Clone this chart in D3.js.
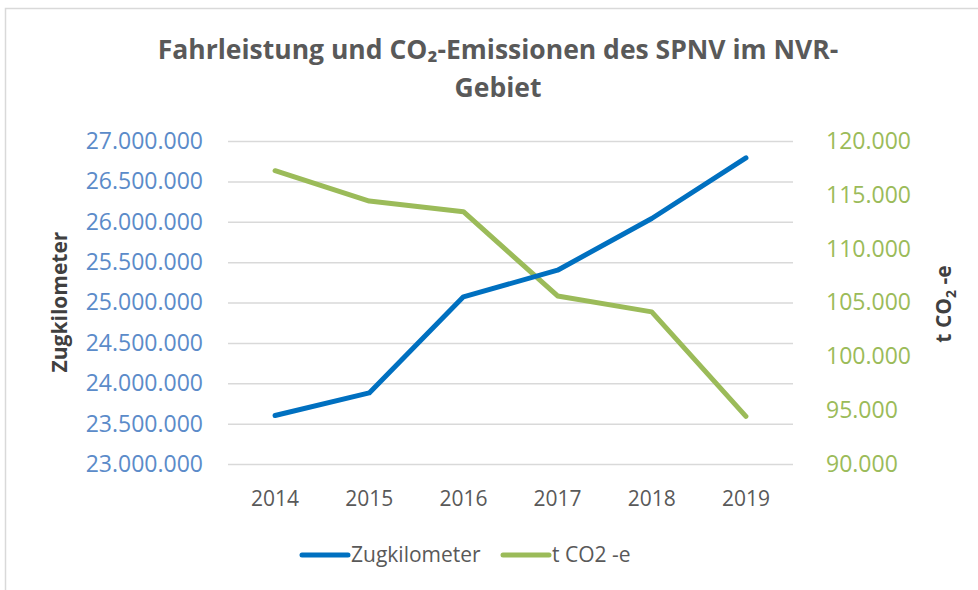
<!DOCTYPE html>
<html lang="de">
<head>
<meta charset="utf-8">
<title>Fahrleistung und CO2-Emissionen des SPNV im NVR-Gebiet</title>
<style>
body { margin: 0; background: #fff; }
svg text { font-family: "Open Sans", sans-serif; }
.grid line { stroke: #d9d9d9; stroke-width: 1.5; }
.grid path { display: none; }
.title { fill: #595959; font-weight: 700; font-size: 26.5px; }
.axis-title { fill: #404040; font-weight: 700; font-size: 21px; }
.ytick-left text { fill: #5b8bc9; font-size: 23px; }
.ytick-right text { fill: #9bbb59; font-size: 23px; }
.xtick text { fill: #595959; font-size: 21px; }
.legend text { fill: #595959; font-size: 21px; }
</style>
</head>
<body>
<div id="chart"></div>
<script src="https://d3js.org/d3.v7.min.js"></script>
<script>
  // data
  var years = ["2014", "2015", "2016", "2017", "2018", "2019"];
  var zugkm = [23600000, 23880000, 25070000, 25400000, 26040000, 26790000];
  var co2 = [117240, 114420, 113430, 105610, 104130, 94430];
  var leftTicks = [23000000, 23500000, 24000000, 24500000, 25000000, 25500000, 26000000, 26500000, 27000000];
  var rightTicks = [90000, 95000, 100000, 105000, 110000, 115000, 120000];

  var W = 978, H = 590;
  var plotL = 228, plotR = 793, plotT = 141, plotB = 464;

  var svg = d3.select("#chart").append("svg")
    .attr("width", W)
    .attr("height", H);

  // chart area border (only left and top visible in the crop)
  svg.append("rect")
    .attr("x", 5.5).attr("y", 8.5)
    .attr("width", W + 20).attr("height", H + 20)
    .attr("fill", "#fff")
    .attr("stroke", "#d9d9d9")
    .attr("stroke-width", 1.5);

  var x = d3.scaleBand().domain(years).range([plotL, plotR]);
  var yL = d3.scaleLinear().domain([23000000, 27000000]).range([plotB, plotT]);
  var yR = d3.scaleLinear().domain([90000, 120000]).range([plotB, plotT]);

  var fmt = function(v) { return d3.format(",")(v).replace(/,/g, "."); };

  // title
  var title = svg.append("text")
    .attr("class", "title")
    .attr("text-anchor", "middle");
  title.append("tspan").attr("x", 498).attr("y", 59)
    .text("Fahrleistung und CO\u2082-Emissionen des SPNV im NVR-");
  title.append("tspan").attr("x", 498).attr("y", 97).text("Gebiet");

  // gridlines
  svg.append("g")
    .attr("class", "grid")
    .attr("transform", "translate(" + plotL + ",0)")
    .call(d3.axisRight(yL).tickValues(leftTicks).tickSize(plotR - plotL).tickFormat(""));

  // left axis labels
  var gl = svg.append("g")
    .attr("class", "ytick-left")
    .attr("transform", "translate(" + plotL + ",0)")
    .call(d3.axisLeft(yL).tickValues(leftTicks).tickSize(0).tickPadding(25).tickFormat(fmt));
  gl.select(".domain").remove();

  // right axis labels
  var gr = svg.append("g")
    .attr("class", "ytick-right")
    .attr("transform", "translate(" + plotR + ",0)")
    .call(d3.axisRight(yR).tickValues(rightTicks).tickSize(0).tickPadding(33).tickFormat(fmt));
  gr.select(".domain").remove();

  // x labels
  var gx = svg.append("g")
    .attr("class", "xtick")
    .attr("transform", "translate(0," + plotB + ")")
    .call(d3.axisBottom(x).tickSize(0).tickPadding(27));
  gx.select(".domain").remove();

  // axis titles
  svg.append("text")
    .attr("class", "axis-title")
    .attr("transform", "translate(67,302) rotate(-90)")
    .attr("text-anchor", "middle")
    .text("Zugkilometer");

  var rt = svg.append("text")
    .attr("class", "axis-title")
    .attr("transform", "translate(951,304) rotate(-90)")
    .attr("text-anchor", "middle");
  rt.append("tspan").text("t CO");
  rt.append("tspan").attr("dy", 5).attr("font-size", "14px").text("2");
  rt.append("tspan").attr("dy", -5).text(" -e");

  // lines
  var lineL = d3.line()
    .x(function(d, i) { return x(years[i]) + x.bandwidth() / 2; })
    .y(function(d) { return yL(d); });
  var lineR = d3.line()
    .x(function(d, i) { return x(years[i]) + x.bandwidth() / 2; })
    .y(function(d) { return yR(d); });

  svg.append("path")
    .datum(co2)
    .attr("d", lineR)
    .attr("fill", "none")
    .attr("stroke", "#9bbb59")
    .attr("stroke-width", 5)
    .attr("stroke-linecap", "round")
    .attr("stroke-linejoin", "round");

  svg.append("path")
    .datum(zugkm)
    .attr("d", lineL)
    .attr("fill", "none")
    .attr("stroke", "#0070c0")
    .attr("stroke-width", 5)
    .attr("stroke-linecap", "round")
    .attr("stroke-linejoin", "round");

  // legend
  var legendItems = [
    { name: "Zugkilometer", color: "#0070c0", x: 302 },
    { name: "t CO2 -e", color: "#9bbb59", x: 503 }
  ];
  var lg = svg.append("g").attr("class", "legend");
  legendItems.forEach(function(d) {
    lg.append("line")
      .attr("x1", d.x).attr("x2", d.x + 46)
      .attr("y1", 555).attr("y2", 555)
      .attr("stroke", d.color)
      .attr("stroke-width", 5)
      .attr("stroke-linecap", "round");
    lg.append("text")
      .attr("x", d.x + 49)
      .attr("y", 562)
      .text(d.name);
  });
</script>
</body>
</html>
